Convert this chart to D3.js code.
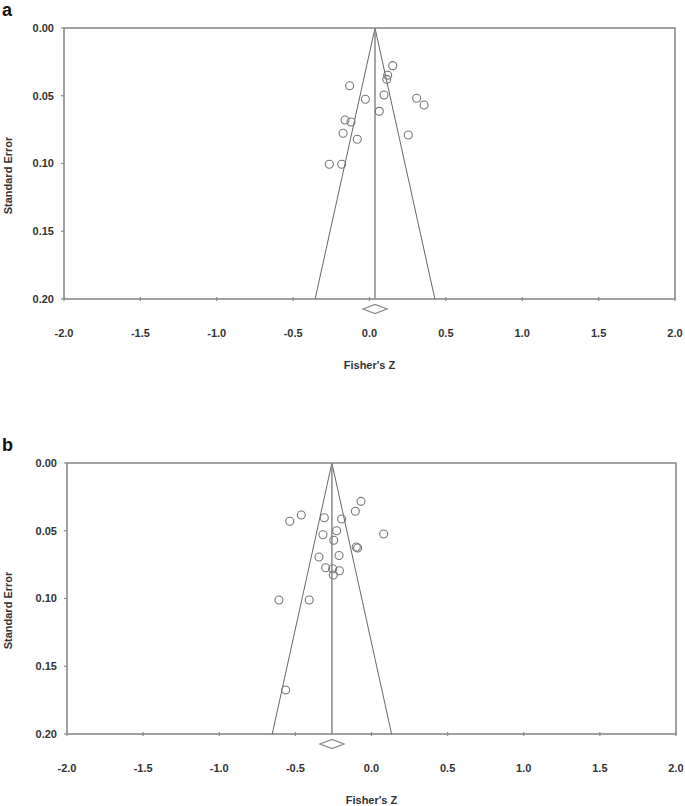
<!DOCTYPE html>
<html>
<head>
<meta charset="utf-8">
<script src="https://cdn.jsdelivr.net/npm/d3@7"></script>
<style>
  body { margin: 0; background: #fff; }
  text { font-family: "Liberation Sans", Arial, sans-serif; }
</style>
</head>
<body>
<svg id="chart" width="685" height="806"></svg>
<script>
// tick labels
var xTicks = [-2.0, -1.5, -1.0, -0.5, 0.0, 0.5, 1.0, 1.5, 2.0];
var yTicks = [0.00, 0.05, 0.10, 0.15, 0.20];

// panel a: studies (Fisher's Z, standard error)
var zA  = [0.152, 0.119, 0.113, -0.130, -0.027, 0.095, 0.309, 0.357, 0.064, -0.160, -0.121, -0.173, -0.080, 0.254, -0.263, -0.182];
var seA = [0.0278, 0.0349, 0.0379, 0.0426, 0.0526, 0.0494, 0.0519, 0.0568, 0.0615, 0.0679, 0.0694, 0.0777, 0.0821, 0.0790, 0.1006, 0.1006];
var pooledA = 0.036, ciA = [-0.043, 0.115];

// panel b
var zB  = [-0.069, -0.106, -0.461, -0.537, -0.310, -0.196, -0.229, -0.319, 0.080, -0.248, -0.100, -0.091, -0.345, -0.213, -0.301, -0.255, -0.211, -0.251, -0.608, -0.409, -0.564];
var seB = [0.0283, 0.0356, 0.0384, 0.0430, 0.0404, 0.0413, 0.0500, 0.0529, 0.0524, 0.0570, 0.0620, 0.0627, 0.0694, 0.0683, 0.0773, 0.0780, 0.0795, 0.0827, 0.1011, 0.1011, 0.1675];
var pooledB = -0.260, ciB = [-0.339, -0.181];

var svg = d3.select("#chart");
// plain hyphen for negatives, like the original
var fmtX = d => d3.format(".1f")(d).replace("\u2212", "-");

function drawPanel(letter, z, se, pooled, ci, box) {
    var x = d3.scaleLinear().domain([-2, 2]).range([box.left, box.right]);
    var y = d3.scaleLinear().domain([0, 0.2]).range([box.top, box.bottom]);
    var g = svg.append("g");
    var frame = "#8a8a8a";

    g.append("text")
        .attr("x", 2).attr("y", box.top - 12)
        .attr("font-size", 18).attr("font-weight", "bold").attr("fill", "#111")
        .text(letter);

    // frame
    g.append("rect")
        .attr("x", box.left).attr("y", box.top)
        .attr("width", box.right - box.left).attr("height", box.bottom - box.top)
        .attr("fill", "none").attr("stroke", frame).attr("stroke-width", 1.6);

    // y axis
    g.selectAll(".ytick").data(yTicks).enter().append("line")
        .attr("x1", box.left - 3).attr("x2", box.left)
        .attr("y1", d => y(d)).attr("y2", d => y(d))
        .attr("stroke", frame).attr("stroke-width", 1.2);
    g.selectAll(".ylab").data(yTicks).enter().append("text")
        .attr("x", box.left - 10).attr("y", d => y(d)).attr("dy", "0.35em")
        .attr("text-anchor", "end").attr("font-size", 11).attr("font-weight", "bold").attr("fill", "#333")
        .text(d => d3.format(".2f")(d));

    // x axis
    g.selectAll(".xtick").data(xTicks).enter().append("line")
        .attr("x1", d => x(d)).attr("x2", d => x(d))
        .attr("y1", box.bottom - 2).attr("y2", box.bottom + 2)
        .attr("stroke", frame).attr("stroke-width", 1.2);
    g.selectAll(".xlab").data(xTicks).enter().append("text")
        .attr("x", d => x(d)).attr("y", box.bottom + 34).attr("dy", "0.35em")
        .attr("text-anchor", "middle").attr("font-size", 11).attr("font-weight", "bold").attr("fill", "#333")
        .text(fmtX);

    g.append("text")
        .attr("x", (box.left + box.right) / 2).attr("y", box.bottom + 66).attr("dy", "0.35em")
        .attr("text-anchor", "middle").attr("font-size", 11).attr("font-weight", "bold").attr("fill", "#333")
        .text("Fisher's Z");

    var cy = (box.top + box.bottom) / 2 + 12;
    g.append("text")
        .attr("transform", "translate(8," + cy + ") rotate(-90)")
        .attr("dy", "0.35em")
        .attr("text-anchor", "middle").attr("font-size", 11).attr("font-weight", "bold").attr("fill", "#333")
        .text("Standard Error");

    // funnel
    var half = 1.96 * 0.2;
    g.append("path")
        .attr("d", d3.line()([[x(pooled - half), y(0.2)], [x(pooled), y(0)], [x(pooled + half), y(0.2)]]))
        .attr("fill", "none").attr("stroke", "#666").attr("stroke-width", 1);
    g.append("line")
        .attr("x1", x(pooled)).attr("x2", x(pooled))
        .attr("y1", y(0)).attr("y2", y(0.2))
        .attr("stroke", "#888").attr("stroke-width", 1.5);

    // points
    g.selectAll("circle").data(d3.range(z.length)).enter().append("circle")
        .attr("cx", i => x(z[i])).attr("cy", i => y(se[i]))
        .attr("r", 4)
        .attr("fill", "none").attr("stroke", "#777").attr("stroke-width", 1.1);

    // pooled estimate diamond
    var dy = box.bottom + 10;
    g.append("path")
        .attr("d", d3.line()([[x(ci[0]), dy], [x(pooled), dy - 4.5], [x(ci[1]), dy], [x(pooled), dy + 4.5]]) + "Z")
        .attr("fill", "#fff").attr("stroke", "#888").attr("stroke-width", 1.2);
}

drawPanel("a", zA, seA, pooledA, ciA, { left: 64, right: 675, top: 28, bottom: 299 });
drawPanel("b", zB, seB, pooledB, ciB, { left: 67, right: 676, top: 463, bottom: 734 });
</script>
</body>
</html>
